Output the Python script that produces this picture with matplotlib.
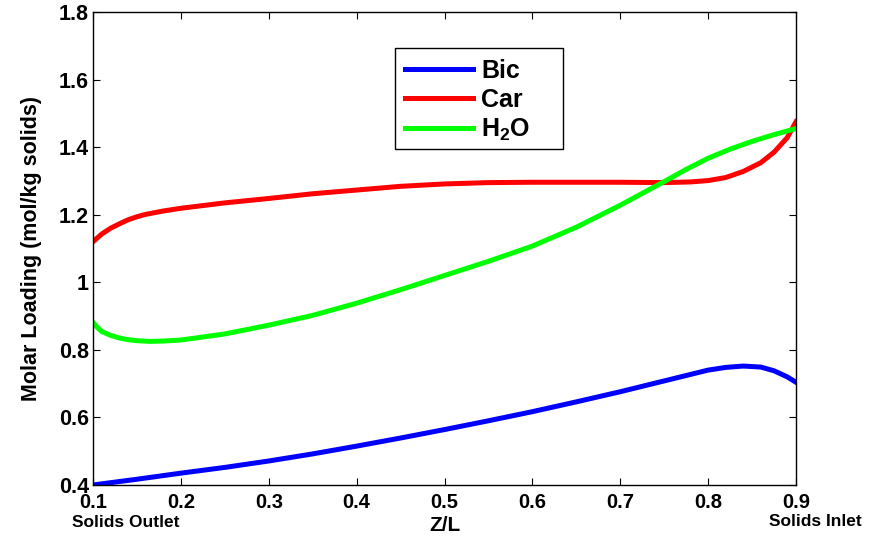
import numpy as np
import matplotlib
matplotlib.use('Agg')
import matplotlib.pyplot as plt
from matplotlib.patches import Rectangle

plt.rcParams['font.family'] = ['Liberation Sans', 'DejaVu Sans']
plt.rcParams['font.weight'] = 'bold'
plt.rcParams['mathtext.fontset'] = 'custom'
plt.rcParams['mathtext.rm'] = 'Liberation Sans:bold'
plt.rcParams['mathtext.bf'] = 'Liberation Sans:bold'

# Values
bic_x = [0.1, 0.15, 0.2, 0.25, 0.3, 0.35, 0.4, 0.45, 0.5, 0.55, 0.6, 0.65,
         0.7, 0.75, 0.8, 0.82, 0.84, 0.86, 0.875, 0.89, 0.9]
bic_y = [0.400, 0.417, 0.435, 0.452, 0.471, 0.492, 0.515, 0.539, 0.564, 0.590,
         0.617, 0.646, 0.676, 0.708, 0.740, 0.748, 0.752, 0.749, 0.738, 0.720,
         0.704]

car_x = [0.1, 0.11, 0.12, 0.13, 0.14, 0.15, 0.16, 0.18, 0.2, 0.25, 0.3, 0.35,
         0.4, 0.45, 0.5, 0.55, 0.6, 0.65, 0.7, 0.75, 0.78, 0.8, 0.82, 0.84,
         0.86, 0.875, 0.89, 0.9]
car_y = [1.120, 1.143, 1.160, 1.173, 1.185, 1.194, 1.201, 1.211, 1.219, 1.235,
         1.248, 1.262, 1.273, 1.284, 1.291, 1.295, 1.296, 1.296, 1.296, 1.295,
         1.297, 1.301, 1.310, 1.328, 1.354, 1.385, 1.428, 1.475]

h2o_x = [0.1, 0.105, 0.11, 0.12, 0.13, 0.14, 0.15, 0.165, 0.18, 0.2, 0.25,
         0.3, 0.35, 0.4, 0.45, 0.5, 0.55, 0.6, 0.65, 0.7, 0.75, 0.775, 0.8,
         0.825, 0.85, 0.875, 0.9]
h2o_y = [0.881, 0.866, 0.854, 0.843, 0.835, 0.830, 0.827, 0.825, 0.826, 0.829,
         0.847, 0.873, 0.902, 0.938, 0.978, 1.020, 1.062, 1.107, 1.163, 1.228,
         1.298, 1.334, 1.367, 1.394, 1.417, 1.437, 1.455]

x_ticks = [0.1, 0.2, 0.3, 0.4, 0.5, 0.6, 0.7, 0.8, 0.9]
y_ticks = [0.4, 0.6, 0.8, 1.0, 1.2, 1.4, 1.6, 1.8]
y_tick_labels = ['0.4', '0.6', '0.8', '1', '1.2', '1.4', '1.6', '1.8']

fig = plt.figure(figsize=(8.81, 5.40), dpi=100)
ax = fig.add_axes([0.1056, 0.1019, 0.7979, 0.8759])

lw = 3.6
ax.plot(bic_x, bic_y, color=(0, 0, 1), linewidth=lw, label='Bic')
ax.plot(car_x, car_y, color=(1, 0, 0), linewidth=lw, label='Car')
ax.plot(h2o_x, h2o_y, color=(0, 1, 0), linewidth=lw, label='H$_\\mathbf{2}$O')

ax.set_xlim(0.1, 0.9)
ax.set_ylim(0.4, 1.8)
ax.set_xticks(x_ticks)
ax.set_xticklabels([f'{v:.1f}' for v in x_ticks])
ax.set_yticks(y_ticks)
ax.set_yticklabels(y_tick_labels)
ax.tick_params(direction='in', length=5, width=0.8, labelsize=15.5,
               top=True, right=True, pad=3)
ax.tick_params(axis='x', labelsize=14.5, pad=6)
for lab in ax.get_xticklabels() + ax.get_yticklabels():
    lab.set_fontweight('bold')
for sp in ax.spines.values():
    sp.set_linewidth(1.0)

ax.set_ylabel('Molar Loading (mol/kg solids)', fontsize=15.5, fontweight='bold',
              labelpad=12)
fig.text(0.505, 0.027, 'Z/L', fontsize=15, fontweight='bold',
         ha='center', va='center')
fig.text(0.1425, 0.033, 'Solids Outlet', fontsize=12.5, fontweight='bold',
         ha='center', va='center')
fig.text(0.925, 0.035, 'Solids Inlet', fontsize=12.5, fontweight='bold',
         ha='center', va='center')

# legend entries without frame, box drawn separately (MATLAB-like wide box)
leg = ax.legend(loc='upper left', bbox_to_anchor=(0.428, 0.924), fontsize=18,
                frameon=False, handlelength=2.7,
                labelspacing=0.2, borderpad=0.45, handletextpad=0.35,
                borderaxespad=0)
for t in leg.get_texts():
    t.set_fontweight('bold')
ax.add_patch(Rectangle((0.4296, 0.7104), 0.239, 0.2135, transform=ax.transAxes,
                       facecolor='none', edgecolor='black', linewidth=1.0,
                       zorder=5))

fig.savefig('out.png', dpi=100)
